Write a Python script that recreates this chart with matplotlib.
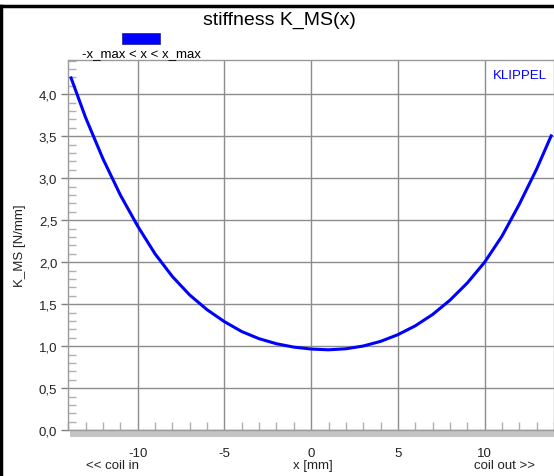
import matplotlib
matplotlib.use("Agg")
import matplotlib.pyplot as plt
from matplotlib.patches import Rectangle
from matplotlib.lines import Line2D
from matplotlib.ticker import MultipleLocator, FuncFormatter

plt.rcParams['font.family'] = ['Liberation Sans', 'DejaVu Sans']

# Steifigkeit ueber der Auslenkung
x_mm = [-13.87, -13, -12, -11, -10, -9, -8, -7, -6, -5, -4, -3, -2, -1, 0,
        1, 2, 3, 4, 5, 6, 7, 8, 9, 10, 11, 12, 13, 13.87]
k_ms = [4.21, 3.72, 3.23, 2.80, 2.43, 2.10, 1.83, 1.61, 1.435, 1.293, 1.175, 1.09, 1.03, 0.99, 0.967,
        0.958, 0.970, 1.003, 1.058, 1.138, 1.243, 1.378, 1.548, 1.753, 2.00, 2.31, 2.69, 3.11, 3.52]

x_ticks = [-10, -5, 0, 5, 10]
y_ticks = [0.0, 0.5, 1.0, 1.5, 2.0, 2.5, 3.0, 3.5, 4.0]

fig = plt.figure(figsize=(5.54, 4.77), dpi=100)
ax = fig.add_axes([0.1233, 0.0958, 0.8767, 0.7769])

ax.plot(x_mm, k_ms, color='#0000ff', lw=2.2, solid_capstyle='butt', solid_joinstyle='round', zorder=3)

ax.set_xlim(-14.0, 14.0)
ax.set_ylim(0, 4.41)
ax.set_xticks(x_ticks)
ax.set_yticks(y_ticks)
ax.xaxis.set_minor_locator(MultipleLocator(1))
ax.yaxis.set_minor_locator(MultipleLocator(0.1))
ax.yaxis.set_major_formatter(FuncFormatter(lambda v, p: f"{v:.1f}".replace('.', ',')))
ax.xaxis.set_major_formatter(FuncFormatter(lambda v, p: f"{v:.0f}"))

ax.grid(True, which='major', color='#8c8c8c', lw=1.0)
ax.tick_params(axis='y', which='major', direction='out', length=5, width=1, color='#808080',
               labelsize=9.5, labelcolor='#222222', pad=3)
ax.tick_params(axis='y', which='minor', direction='in', length=6, width=1, color='#b0b0b0')
ax.tick_params(axis='x', which='major', direction='in', length=0, labelsize=9.5,
               labelcolor='#222222', pad=12)
ax.tick_params(axis='x', which='minor', direction='in', length=6, width=1, color='#b0b0b0')

for s in ax.spines.values():
    s.set_color('#9a9a9a')
    s.set_linewidth(1.0)

# grauer Balken unter der x-Achse
ax.add_patch(Rectangle((0.003, -0.017), 0.997, 0.017, transform=ax.transAxes,
                       facecolor='#c4c4c4', edgecolor='none', clip_on=False))

ax.text(0.985, 0.975, 'KLIPPEL', transform=ax.transAxes, color='#0000ff',
        fontsize=9.5, ha='right', va='top')

ax.set_ylabel('K_MS [N/mm]', fontsize=9.5, color='#222222', labelpad=9)
fig.text(313 / 554, 1 - 466 / 477, 'x [mm]', fontsize=9.5, ha='center', va='center', color='#222222')
fig.text(113 / 554, 1 - 466 / 477, '<< coil in', fontsize=9.5, ha='center', va='center', color='#222222')
fig.text(504 / 554, 1 - 466 / 477, 'coil out >>', fontsize=9.5, ha='center', va='center', color='#222222')

fig.text(279 / 554, 1 - 20 / 477, 'stiffness K_MS(x)', fontsize=14, ha='center', va='center')

# Legende
fig.add_artist(Rectangle((122 / 554, 1 - 45 / 477), 38 / 554, 11 / 477, transform=fig.transFigure,
                         facecolor='#0000ff', edgecolor='#3030a0', lw=0.6))
fig.text(141 / 554, 1 - 55 / 477, '-x_max < x < x_max', fontsize=9.5, ha='center', va='center')

# Rahmen
fig.add_artist(Line2D([0, 1], [1 - 7 / 477, 1 - 7 / 477], transform=fig.transFigure, color='black', lw=2.5))
fig.add_artist(Line2D([1.3 / 554, 1.3 / 554], [0, 1 - 7 / 477], transform=fig.transFigure, color='black', lw=2.5))

fig.savefig('out.png', dpi=100)
